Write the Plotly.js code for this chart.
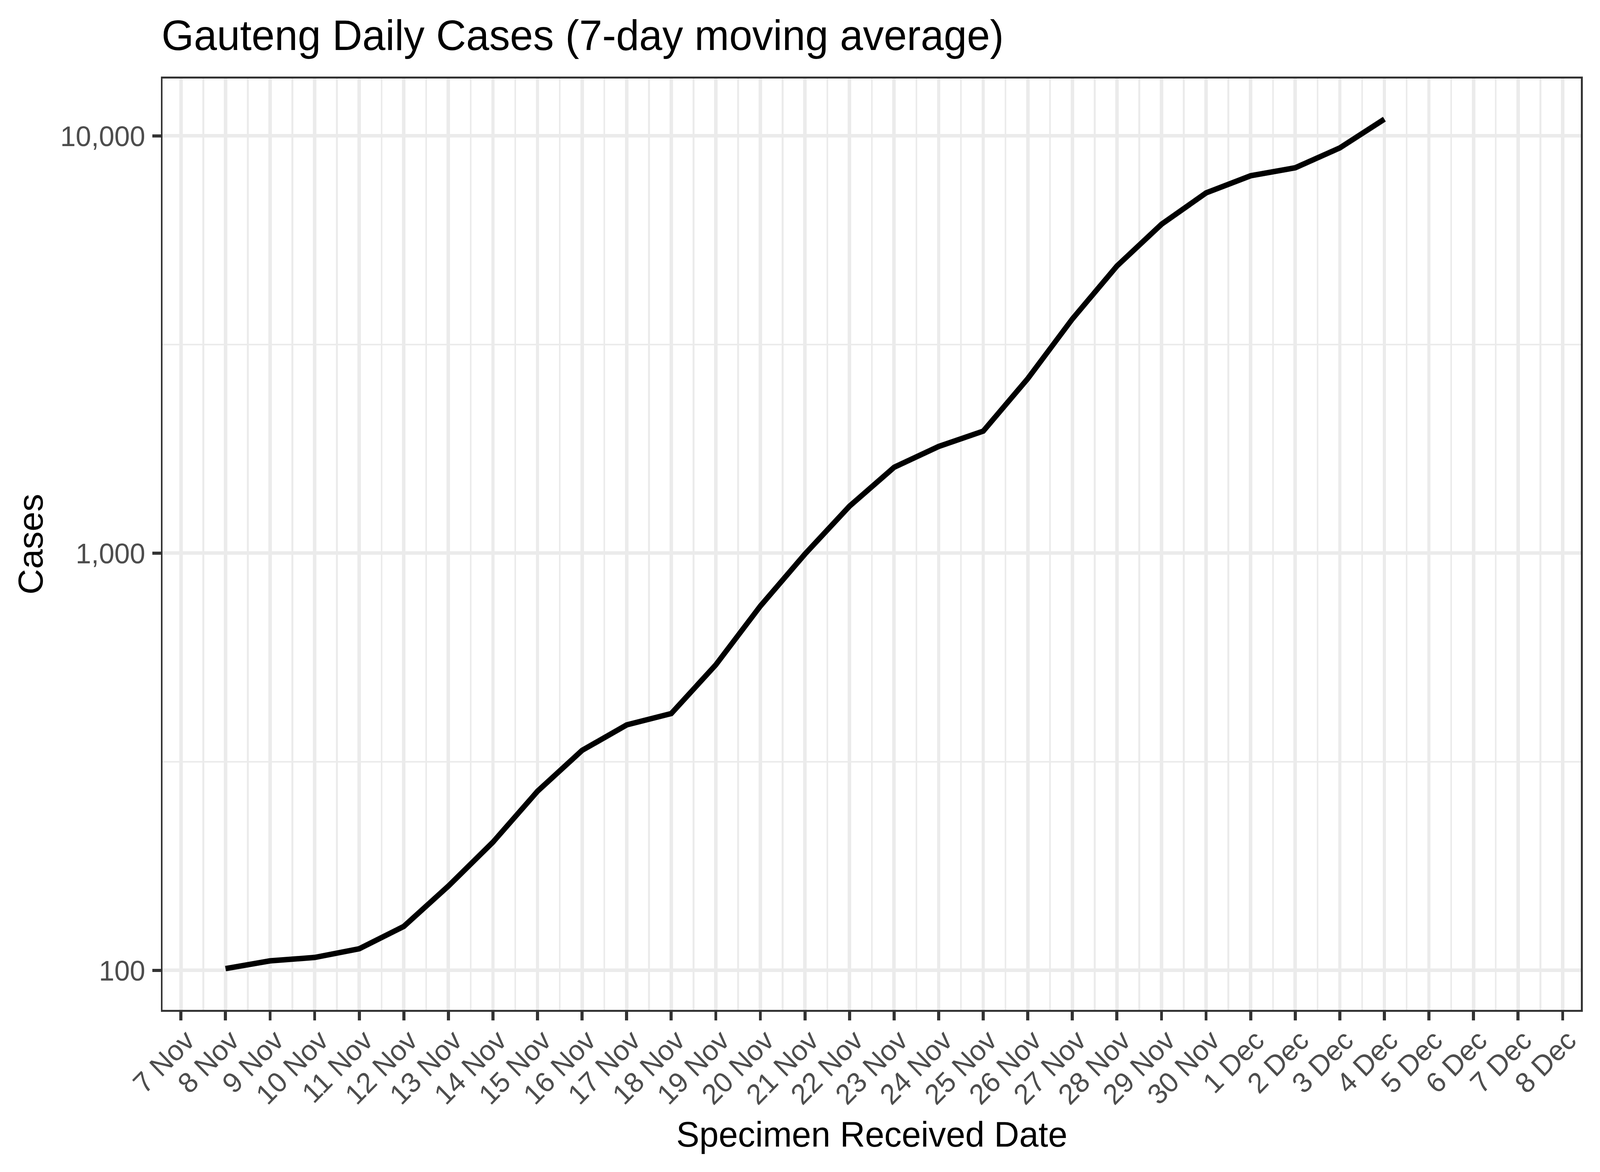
<!DOCTYPE html>
<html>
<head>
<meta charset="utf-8">
<script src="https://cdn.plot.ly/plotly-3.0.1.min.js"></script>
<style>
  html, body { margin: 0; padding: 0; background: #ffffff; overflow: hidden; }
  /* the browser viewport is only 4096px wide: compress the 4200px design horizontally so it all fits */
  #chart { width: 4200px; height: 3000px; transform: scaleX(0.975238); transform-origin: 0 0; }
</style>
</head>
<body>
<div id="chart"></div>
<script>
// ---- data ----
const dates = [
  '2021-11-08','2021-11-09','2021-11-10','2021-11-11','2021-11-12','2021-11-13',
  '2021-11-14','2021-11-15','2021-11-16','2021-11-17','2021-11-18','2021-11-19',
  '2021-11-20','2021-11-21','2021-11-22','2021-11-23','2021-11-24','2021-11-25',
  '2021-11-26','2021-11-27','2021-11-28','2021-11-29','2021-11-30','2021-12-01',
  '2021-12-02','2021-12-03','2021-12-04'
];
const cases = [
  101, 105.4, 107.4, 112.7, 127.5, 159.3,
  203, 268.8, 336.8, 387.6, 412.7, 540,
  747, 995, 1296, 1606, 1802, 1961,
  2621, 3643, 4878, 6143, 7302, 8028,
  8388, 9361, 10970
];
const yTickVals = [100, 1000, 10000];
const yTickText = ['100', '1,000', '10,000'];
const yMinorVals = [316.2278, 3162.278];

const titleText = 'Gauteng Daily Cases (7-day moving average)';
const xTitle = 'Specimen Received Date';
const yTitle = 'Cases';

const FONT = '"Liberation Sans", Arial, Helvetica, sans-serif';
const GRID = '#EBEBEB';

const trace = {
  x: dates,
  y: cases,
  type: 'scatter',
  mode: 'lines',
  line: { color: '#000000', width: 14 },
  hoverinfo: 'skip'
};

const layout = {
  width: 4200,
  height: 3000,
  paper_bgcolor: '#ffffff',
  plot_bgcolor: '#ffffff',
  margin: { l: 427, r: 50, t: 201, b: 415, pad: 0 },
  showlegend: false,
  title: {
    text: titleText,
    font: { family: FONT, size: 109, color: '#000000' },
    xref: 'container', x: 424 / 4200, xanchor: 'left',
    yref: 'container', y: 1 - 90 / 3000, yanchor: 'middle'
  },
  xaxis: {
    type: 'date',
    range: ['2021-11-06 14:09', '2021-12-08 09:51'],
    tickmode: 'linear',
    tick0: '2021-11-07',
    dtick: 86400000,
    tickformat: '%-d %b',
    tickangle: -45,
    tickfont: { family: FONT, size: 73, color: '#4D4D4D' },
    ticklabelstandoff: -21,
    ticklabelshift: 14,
    ticks: 'outside',
    ticklen: 22,
    tickwidth: 8,
    tickcolor: '#333333',
    showgrid: true,
    gridcolor: GRID,
    gridwidth: 9,
    minor: {
      tick0: '2021-11-07 12:00',
      dtick: 86400000,
      showgrid: true,
      gridcolor: GRID,
      gridwidth: 4.5,
      ticks: ''
    },
    showline: true,
    linecolor: '#333333',
    linewidth: 5,
    mirror: true,
    zeroline: false,
    automargin: false,
    title: {
      text: xTitle,
      font: { family: FONT, size: 91, color: '#000000' },
      standoff: 32
    }
  },
  yaxis: {
    type: 'log',
    range: [1.9054, 4.1376],
    tickmode: 'array',
    tickvals: yTickVals,
    ticktext: yTickText,
    tickfont: { family: FONT, size: 73, color: '#4D4D4D' },
    ticklabelstandoff: 4,
    ticks: 'outside',
    ticklen: 22,
    tickwidth: 8,
    tickcolor: '#333333',
    showgrid: true,
    gridcolor: GRID,
    gridwidth: 9,
    minor: {
      tickmode: 'array',
      tickvals: yMinorVals,
      showgrid: true,
      gridcolor: GRID,
      gridwidth: 4.5,
      ticks: ''
    },
    showline: true,
    linecolor: '#333333',
    linewidth: 5,
    mirror: true,
    zeroline: false,
    automargin: false,
    title: {
      text: yTitle,
      font: { family: FONT, size: 91, color: '#000000' },
      standoff: 17
    }
  }
};

Plotly.newPlot('chart', [trace], layout, { displayModeBar: false, staticPlot: true });
</script>
</body>
</html>
